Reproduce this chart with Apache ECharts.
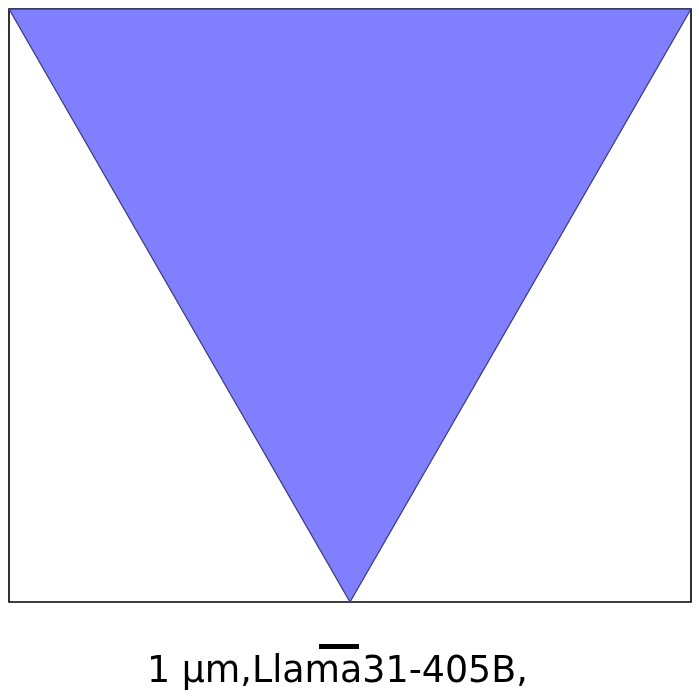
<!DOCTYPE html>
<html>
<head>
<meta charset="utf-8">
<script src="https://cdn.jsdelivr.net/npm/echarts@6/dist/echarts.min.js"></script>
<style>
html,body{margin:0;padding:0;background:#fff;}
#chart{width:699px;height:700px;}
</style>
</head>
<body>
<div id="chart"></div>
<script>
// Triangle vertices in data coordinates
var triX = [0, 1, 0.5];
var triY = [1, 1, 0];
var captionText = '1 \u00b5m,Llama31-405B,';

var chart = echarts.init(document.getElementById('chart'), null, {renderer: 'canvas'});

var option = {
  animation: false,
  backgroundColor: '#ffffff',
  grid: {
    left: 9, right: 8, top: 9, bottom: 98,
    show: true, borderColor: '#000000', borderWidth: 1.6,
    backgroundColor: 'transparent'
  },
  xAxis: { type: 'value', min: 0, max: 1, show: false },
  yAxis: { type: 'value', min: 0, max: 1, show: false },
  series: [{
    type: 'custom',
    data: [[0, 0]],
    clip: false,
    renderItem: function (params, api) {
      var pts = [];
      for (var i = 0; i < triX.length; i++) {
        pts.push(api.coord([triX[i], triY[i]]));
      }
      return {
        type: 'polygon',
        shape: { points: pts },
        style: { fill: '#8080ff', stroke: '#3c3c78', lineWidth: 1.3 }
      };
    }
  }],
  graphic: [
    {
      type: 'rect',
      shape: { x: 319, y: 644, width: 40, height: 5 },
      style: { fill: '#000000' }
    },
    {
      type: 'text',
      x: 147, y: 672.5,
      style: {
        text: captionText,
        font: '36.4px "DejaVu Sans"',
        fill: '#000000',
        textAlign: 'left',
        textVerticalAlign: 'middle'
      }
    }
  ]
};
chart.setOption(option);
</script>
</body>
</html>
